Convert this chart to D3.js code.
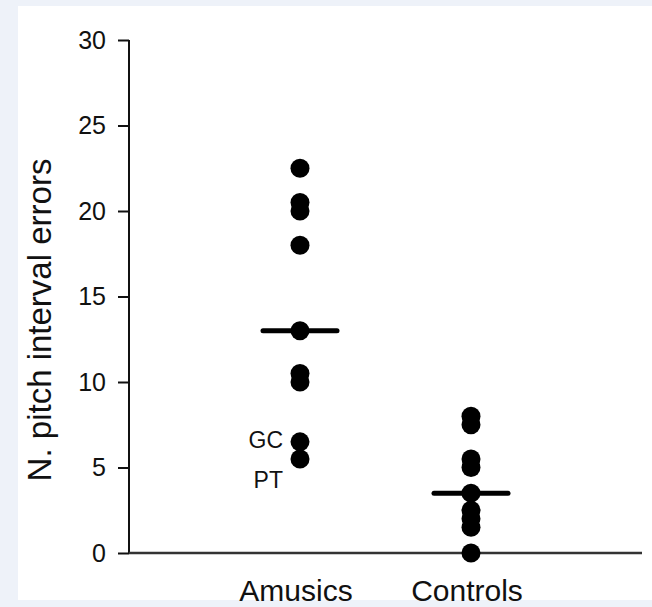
<!DOCTYPE html>
<html>
<head>
<meta charset="utf-8">
<script src="https://cdn.jsdelivr.net/npm/d3@7"></script>
<style>
  html, body { margin: 0; padding: 0; background: #eef2f9; }
  svg { display: block; font-family: "Liberation Sans", Arial, sans-serif; }
</style>
</head>
<body>
<div id="chart"></div>
<script>
// data
const groups = ["Amusics", "Controls"];
const amusics = [22.5, 20.5, 20, 18, 13, 10.5, 10, 6.5, 5.5];
const controls = [8, 7.5, 5.5, 5, 3.5, 2.5, 2, 1.5, 0];
const medians = [13, 3.5];
const yTicks = [0, 5, 10, 15, 20, 25, 30];
const notes = [
    {group: "Amusics", value: 6.5, label: "GC", dy: 6},
    {group: "Amusics", value: 5.5, label: "PT", dy: 29}
];

const width = 652, height = 607;

let svg = d3.select("#chart")
    .append("svg")
    .attr("width", width)
    .attr("height", height);

// pale page behind the white figure panel
svg.append("rect")
    .attr("x", 0).attr("y", 0)
    .attr("width", width).attr("height", height)
    .attr("fill", "#eef2f9");
svg.append("rect")
    .attr("x", 18).attr("y", 6)
    .attr("width", width - 18).attr("height", 594)
    .attr("fill", "#ffffff");

let y = d3.scaleLinear()
    .domain([0, 30])
    .range([553, 40]);

let x = d3.scalePoint()
    .domain(groups)
    .range([300, 471]);

// y axis
let yAxis = svg.append("g")
    .attr("transform", "translate(129,0)")
    .call(d3.axisLeft(y).tickValues(yTicks).tickSize(11).tickPadding(12));
yAxis.select(".domain").remove();
yAxis.append("line")
    .attr("x1", 0).attr("x2", 0)
    .attr("y1", y(30)).attr("y2", y(0))
    .attr("stroke", "#111").attr("stroke-width", 2);
yAxis.selectAll(".tick line").attr("stroke", "#111").attr("stroke-width", 2);
yAxis.selectAll(".tick text")
    .attr("fill", "#111")
    .style("font-size", "25px")
    .style("font-family", "'Liberation Sans', Arial, sans-serif");

// x axis line and category labels
svg.append("line")
    .attr("x1", 129).attr("x2", 642)
    .attr("y1", y(0)).attr("y2", y(0))
    .attr("stroke", "#333").attr("stroke-width", 2.5);

svg.selectAll(".cat")
    .data(groups)
    .enter()
    .append("text")
    .attr("class", "cat")
    .attr("x", d => x(d) - 4)
    .attr("y", 601)
    .attr("text-anchor", "middle")
    .attr("fill", "#111")
    .style("font-size", "30px")
    .text(d => d);

// y label
svg.append("text")
    .attr("transform", "translate(51,320) rotate(-90)")
    .attr("text-anchor", "middle")
    .attr("fill", "#111")
    .style("font-size", "33px")
    .text("N. pitch interval errors");

// points
let points = [
    ...amusics.map(v => ({group: "Amusics", value: v})),
    ...controls.map(v => ({group: "Controls", value: v}))
];

svg.selectAll(".dot")
    .data(points)
    .enter()
    .append("circle")
    .attr("class", "dot")
    .attr("cx", d => x(d.group))
    .attr("cy", d => y(d.value))
    .attr("r", 9.5)
    .attr("fill", "#000");

// median bars
svg.selectAll(".median")
    .data(groups)
    .enter()
    .append("line")
    .attr("class", "median")
    .attr("x1", d => x(d) - 37)
    .attr("x2", d => x(d) + 37)
    .attr("y1", (d, i) => y(medians[i]))
    .attr("y2", (d, i) => y(medians[i]))
    .attr("stroke", "#000")
    .attr("stroke-width", 5)
    .attr("stroke-linecap", "round");

// participant labels
svg.selectAll(".note")
    .data(notes)
    .enter()
    .append("text")
    .attr("class", "note")
    .attr("x", d => x(d.group) - 17)
    .attr("y", d => y(d.value) + d.dy)
    .attr("text-anchor", "end")
    .attr("fill", "#111")
    .style("font-size", "23px")
    .text(d => d.label);
</script>
</body>
</html>
